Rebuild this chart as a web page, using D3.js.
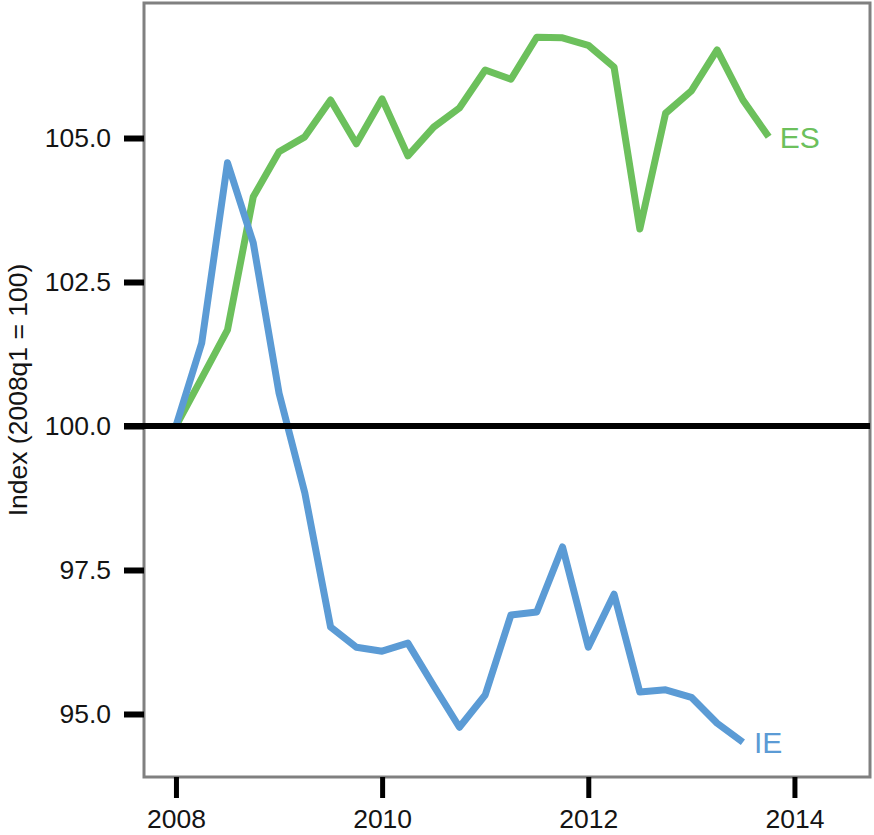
<!DOCTYPE html>
<html>
<head>
<meta charset="utf-8">
<script src="https://cdn.jsdelivr.net/npm/d3@7"></script>
<style>
  html, body { margin: 0; padding: 0; background: #ffffff; }
  svg { display: block; font-family: "Liberation Sans", Arial, sans-serif; }
</style>
</head>
<body>
<svg id="chart" width="874" height="835"></svg>
<script>
// Quarterly periods
const quarters = [
  "2008q1","2008q2","2008q3","2008q4",
  "2009q1","2009q2","2009q3","2009q4",
  "2010q1","2010q2","2010q3","2010q4",
  "2011q1","2011q2","2011q3","2011q4",
  "2012q1","2012q2","2012q3","2012q4",
  "2013q1","2013q2","2013q3","2013q4"
];

// Index values, 2008q1 = 100
const esValues = [100.00, 100.83, 101.67, 103.98, 104.76, 105.02, 105.66, 104.90,
                  105.68, 104.69, 105.19, 105.52, 106.18, 106.02, 106.75, 106.74,
                  106.61, 106.23, 103.42, 105.43, 105.82, 106.53, 105.66, 105.02];
const ieValues = [100.00, 101.44, 104.57, 103.18, 100.57, 98.84, 96.51, 96.16,
                  96.09, 96.23, 95.49, 94.77, 95.33, 96.72, 96.77, 97.90,
                  96.16, 97.08, 95.38, 95.42, 95.29, 94.84, 94.51];

const seriesNames = ["ES", "IE"];
const seriesColors = ["#6cc05c", "#5b9bd5"];

const xTicks = [2008, 2010, 2012, 2014];
const yTicks = [95.0, 97.5, 100.0, 102.5, 105.0];
const baseline = 100;
const yTitle = "Index (2008q1 = 100)";

// Turn "2008q3" into a decimal year
const toYear = q => +q.slice(0, 4) + (+q.slice(5) - 1) / 4;

const svg = d3.select("#chart");
const panel = { left: 144, right: 870, top: 3, bottom: 777 };

const x = d3.scaleLinear()
  .domain([2007.69, 2014.733])
  .range([panel.left, panel.right]);
const y = d3.scaleLinear()
  .domain([93.906, 107.344])
  .range([panel.bottom, panel.top]);

// Panel frame
svg.append("rect")
  .attr("x", panel.left).attr("y", panel.top)
  .attr("width", panel.right - panel.left)
  .attr("height", panel.bottom - panel.top)
  .attr("fill", "none")
  .attr("stroke", "#808080")
  .attr("stroke-width", 3);

// Y axis
const yAxis = d3.axisLeft(y)
  .tickValues(yTicks)
  .tickFormat(d3.format(".1f"))
  .tickSize(20)
  .tickPadding(13);
const gy = svg.append("g")
  .attr("transform", `translate(${panel.left},0)`)
  .call(yAxis);
gy.select(".domain").remove();
gy.selectAll(".tick line").attr("stroke", "#000").attr("stroke-width", 6);
gy.selectAll(".tick text")
  .attr("fill", "#141414")
  .attr("font-size", 26.5)
  .attr("font-family", "Liberation Sans, Arial, sans-serif");

// X axis
const xAxis = d3.axisBottom(x)
  .tickValues(xTicks)
  .tickFormat(d3.format("d"))
  .tickSize(21)
  .tickPadding(11);
const gx = svg.append("g")
  .attr("transform", `translate(0,${panel.bottom})`)
  .call(xAxis);
gx.select(".domain").remove();
gx.selectAll(".tick line").attr("stroke", "#000").attr("stroke-width", 5);
gx.selectAll(".tick text")
  .attr("fill", "#141414")
  .attr("font-size", 26.5)
  .attr("font-family", "Liberation Sans, Arial, sans-serif");

// Y axis title
svg.append("text")
  .attr("transform", `translate(27,${(panel.top + panel.bottom) / 2}) rotate(-90)`)
  .attr("text-anchor", "middle")
  .attr("font-size", 26.5)
  .attr("fill", "#141414")
  .text(yTitle);

// Series lines
const line = d3.line()
  .x(d => x(d.t))
  .y(d => y(d.v));

const series = [esValues, ieValues].map((vals, i) => ({
  name: seriesNames[i],
  color: seriesColors[i],
  points: vals.map((v, j) => ({ t: toYear(quarters[j]), v }))
}));

series.forEach(s => {
  svg.append("path")
    .datum(s.points)
    .attr("d", line)
    .attr("fill", "none")
    .attr("stroke", s.color)
    .attr("stroke-width", 7)
    .attr("stroke-linejoin", "round");
});

// Reference line at the base value
svg.append("line")
  .attr("x1", panel.left - 20).attr("x2", panel.right)
  .attr("y1", y(baseline)).attr("y2", y(baseline))
  .attr("stroke", "#000")
  .attr("stroke-width", 6);

// Series labels at the end of each line
series.forEach(s => {
  const last = s.points[s.points.length - 1];
  svg.append("text")
    .attr("x", x(last.t) + 11)
    .attr("y", y(last.v))
    .attr("dy", "0.36em")
    .attr("font-size", 30)
    .attr("fill", s.color)
    .text(s.name);
});
</script>
</body>
</html>
